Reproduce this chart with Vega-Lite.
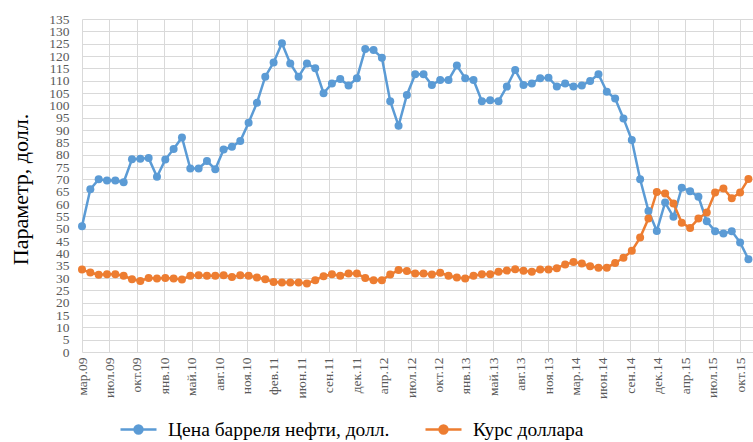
{
  "$schema": "https://vega.github.io/schema/vega-lite/v6.json",
  "width": 671,
  "height": 333,
  "autosize": {"type": "none"},
  "padding": {"left": 82, "top": 19, "right": 0, "bottom": 90},
  "background": "white",
  "config": {
    "view": {"stroke": null},
    "axis": {"gridColor": "#d9d9d9", "gridWidth": 1, "domain": false, "ticks": false, "labelColor": "#595959", "labelFontSize": 13.5}
  },
  "data": {"values": [
    {"i":0,"month":"2009-03","oil":51,"usd":33.4},
    {"i":1,"month":"2009-04","oil":66,"usd":32.2},
    {"i":2,"month":"2009-05","oil":70,"usd":31.3},
    {"i":3,"month":"2009-06","oil":69.5,"usd":31.5},
    {"i":4,"month":"2009-07","oil":69.5,"usd":31.5},
    {"i":5,"month":"2009-08","oil":68.8,"usd":30.9},
    {"i":6,"month":"2009-09","oil":78.1,"usd":29.5},
    {"i":7,"month":"2009-10","oil":78.3,"usd":28.8},
    {"i":8,"month":"2009-11","oil":78.6,"usd":30},
    {"i":9,"month":"2009-12","oil":71,"usd":29.8},
    {"i":10,"month":"2010-01","oil":78,"usd":30},
    {"i":11,"month":"2010-02","oil":82.3,"usd":29.8},
    {"i":12,"month":"2010-03","oil":87,"usd":29.4},
    {"i":13,"month":"2010-04","oil":74.4,"usd":30.9},
    {"i":14,"month":"2010-05","oil":74.4,"usd":31.1},
    {"i":15,"month":"2010-06","oil":77.4,"usd":30.9},
    {"i":16,"month":"2010-07","oil":74.1,"usd":30.9},
    {"i":17,"month":"2010-08","oil":82.1,"usd":31.1},
    {"i":18,"month":"2010-09","oil":83.2,"usd":30.4},
    {"i":19,"month":"2010-10","oil":85.5,"usd":31.1},
    {"i":20,"month":"2010-11","oil":92.9,"usd":30.9},
    {"i":21,"month":"2010-12","oil":101,"usd":30.2},
    {"i":22,"month":"2011-01","oil":111.6,"usd":29.5},
    {"i":23,"month":"2011-02","oil":117.4,"usd":28.4},
    {"i":24,"month":"2011-03","oil":125.2,"usd":28.2},
    {"i":25,"month":"2011-04","oil":117,"usd":28.2},
    {"i":26,"month":"2011-05","oil":111.6,"usd":28.2},
    {"i":27,"month":"2011-06","oil":117,"usd":27.8},
    {"i":28,"month":"2011-07","oil":115,"usd":29.1},
    {"i":29,"month":"2011-08","oil":104.9,"usd":30.7},
    {"i":30,"month":"2011-09","oil":108.9,"usd":31.5},
    {"i":31,"month":"2011-10","oil":110.7,"usd":30.9},
    {"i":32,"month":"2011-11","oil":108,"usd":31.8},
    {"i":33,"month":"2011-12","oil":111,"usd":31.8},
    {"i":34,"month":"2012-01","oil":122.8,"usd":30},
    {"i":35,"month":"2012-02","oil":122.4,"usd":29.1},
    {"i":36,"month":"2012-03","oil":119.3,"usd":29.1},
    {"i":37,"month":"2012-04","oil":101.7,"usd":31.4},
    {"i":38,"month":"2012-05","oil":91.7,"usd":33.2},
    {"i":39,"month":"2012-06","oil":104.2,"usd":32.8},
    {"i":40,"month":"2012-07","oil":112.6,"usd":31.8},
    {"i":41,"month":"2012-08","oil":112.6,"usd":31.8},
    {"i":42,"month":"2012-09","oil":108.2,"usd":31.4},
    {"i":43,"month":"2012-10","oil":110.3,"usd":32.1},
    {"i":44,"month":"2012-11","oil":110.3,"usd":30.9},
    {"i":45,"month":"2012-12","oil":116.1,"usd":30.2},
    {"i":46,"month":"2013-01","oil":111,"usd":29.8},
    {"i":47,"month":"2013-02","oil":110.3,"usd":30.9},
    {"i":48,"month":"2013-03","oil":101.7,"usd":31.5},
    {"i":49,"month":"2013-04","oil":102.1,"usd":31.5},
    {"i":50,"month":"2013-05","oil":101.7,"usd":32.5},
    {"i":51,"month":"2013-06","oil":107.6,"usd":33},
    {"i":52,"month":"2013-07","oil":114.3,"usd":33.5},
    {"i":53,"month":"2013-08","oil":108.2,"usd":32.9},
    {"i":54,"month":"2013-09","oil":108.9,"usd":32.5},
    {"i":55,"month":"2013-10","oil":111,"usd":33.4},
    {"i":56,"month":"2013-11","oil":111.2,"usd":33.4},
    {"i":57,"month":"2013-12","oil":107.6,"usd":34},
    {"i":58,"month":"2014-01","oil":108.9,"usd":35.5},
    {"i":59,"month":"2014-02","oil":107.6,"usd":36.5},
    {"i":60,"month":"2014-03","oil":108,"usd":35.9},
    {"i":61,"month":"2014-04","oil":109.9,"usd":34.8},
    {"i":62,"month":"2014-05","oil":112.6,"usd":34.2},
    {"i":63,"month":"2014-06","oil":105.5,"usd":34.2},
    {"i":64,"month":"2014-07","oil":102.8,"usd":36.1},
    {"i":65,"month":"2014-08","oil":94.7,"usd":38.2},
    {"i":66,"month":"2014-09","oil":85.9,"usd":41},
    {"i":67,"month":"2014-10","oil":70,"usd":46.4},
    {"i":68,"month":"2014-11","oil":57.2,"usd":54.1},
    {"i":69,"month":"2014-12","oil":49.1,"usd":64.9},
    {"i":70,"month":"2015-01","oil":60.6,"usd":64.3},
    {"i":71,"month":"2015-02","oil":54.8,"usd":60.2},
    {"i":72,"month":"2015-03","oil":66.6,"usd":52.4},
    {"i":73,"month":"2015-04","oil":65.2,"usd":50.3},
    {"i":74,"month":"2015-05","oil":62.9,"usd":54.1},
    {"i":75,"month":"2015-06","oil":53,"usd":56.6},
    {"i":76,"month":"2015-07","oil":49,"usd":64.7},
    {"i":77,"month":"2015-08","oil":48,"usd":66.3},
    {"i":78,"month":"2015-09","oil":49,"usd":62.3},
    {"i":79,"month":"2015-10","oil":44.4,"usd":64.7},
    {"i":80,"month":"2015-11","oil":37.6,"usd":70.1}
  ]},
  "transform": [{"fold": ["oil", "usd"], "as": ["series", "value"]}],
  "mark": {"type": "line", "strokeWidth": 2.5, "point": {"filled": true, "size": 64, "opacity": 1}},
  "encoding": {
    "x": {
      "field": "i", "type": "quantitative",
      "scale": {"domain": [0, 80.55], "nice": false, "zero": false},
      "axis": {
        "title": null,
        "values": [0, 3.291667, 6.583333, 9.875, 13.166667, 16.458333, 19.75, 23.041667, 26.333333, 29.625, 32.916667, 36.208333, 39.5, 42.791667, 46.083333, 49.375, 52.666667, 55.958333, 59.25, 62.541667, 65.833333, 69.125, 72.416667, 75.708333, 79],
        "labelExpr": "['мар.09','июл.09','окт.09','янв.10','май.10','авг.10','ноя.10','фев.11','июн.11','сен.11','дек.11','апр.12','июл.12','окт.12','янв.13','май.13','авг.13','ноя.13','мар.14','июн.14','сен.14','дек.14','апр.15','июл.15','окт.15'][round(datum.value*24/79)]",
        "labelFont": "Liberation Serif",
        "labelFontSize": 13.5,
        "labelAngle": 270,
        "labelPadding": 5,
        "labelOverlap": false,
        "labelFlush": false,
        "labelBound": false
      }
    },
    "y": {
      "field": "value", "type": "quantitative",
      "scale": {"domain": [0, 135], "nice": false},
      "axis": {
        "title": "Параметр, долл.",
        "values": [0,5,10,15,20,25,30,35,40,45,50,55,60,65,70,75,80,85,90,95,100,105,110,115,120,125,130,135],
        "labelFont": "Liberation Serif",
        "labelFontSize": 13.5,
        "labelPadding": 13,
        "labelOverlap": false,
        "labelFlush": false,
        "titleFont": "Liberation Serif",
        "titleFontSize": 22,
        "titleFontWeight": "normal",
        "titleColor": "black",
        "titleAngle": 270,
        "titleX": -55,
        "titleY": 170,
        "titleAnchor": "middle",
        "titleAlign": "center",
        "titleBaseline": "alphabetic"
      }
    },
    "color": {
      "field": "series", "type": "nominal",
      "scale": {"domain": ["oil", "usd"], "range": ["#5B9BD5", "#ED7D31"]},
      "legend": {
        "title": null,
        "orient": "none",
        "direction": "horizontal",
        "legendX": 37,
        "legendY": 391,
        "labelExpr": "datum.value == 'oil' ? 'Цена барреля нефти, долл.' : 'Курс доллара'",
        "labelFont": "Liberation Serif",
        "labelFontSize": 19.5,
        "labelLimit": 500,
        "labelColor": "black",
        "labelOffset": 10,
        "columnPadding": 30,
        "symbolType": "M-1,0H1M-0.22,0A0.22,0.22 0 1,0 0.22,0A0.22,0.22 0 1,0 -0.22,0Z",
        "symbolSize": 1296,
        "symbolStrokeWidth": 2.5,
        "symbolOpacity": 1,
        "encode": {"symbols": {"update": {"fill": {"scale": "color", "field": "value"}}}}
      }
    }
  }
}
